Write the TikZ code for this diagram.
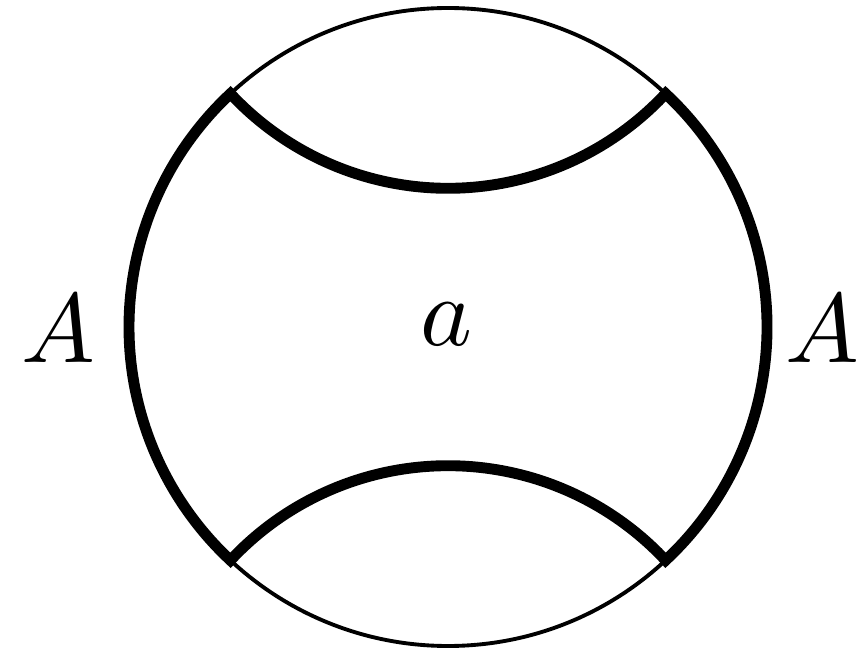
\documentclass[tikz,border=0pt]{standalone}
\usepackage{tikz}
\usetikzlibrary{positioning, calc}

\begin{document}
\begin{tikzpicture}[
            rim/.style={draw, line width=1.1pt},
            geo/.style={draw, line width=3.1pt, line join=miter},
            lbl/.style={scale=2.8, inner sep=0pt}]
          \useasboundingbox (0,0) rectangle (8.57,6.52);
          \coordinate (c) at (4.48,3.25);
          % outer circle
          \draw[rim] (c) circle[radius=3.19];
          % thick boundary of the region
          \path[geo] ($(c)+(133:3.19)$) arc[start angle=133, end angle=227, radius=3.19]
            arc[start angle=137, end angle=43, radius=2.975]
            arc[start angle=-47, end angle=47, radius=3.19]
            arc[start angle=317, end angle=223, radius=2.975] -- cycle;
          \node[lbl] (mid) at (4.47,3.28) {$a$};
          \node[lbl] (left) at (0.58,3.23) {$A$};
          \node[lbl] (right) at (8.22,3.23) {$A$};
        \end{tikzpicture}
\end{document}
